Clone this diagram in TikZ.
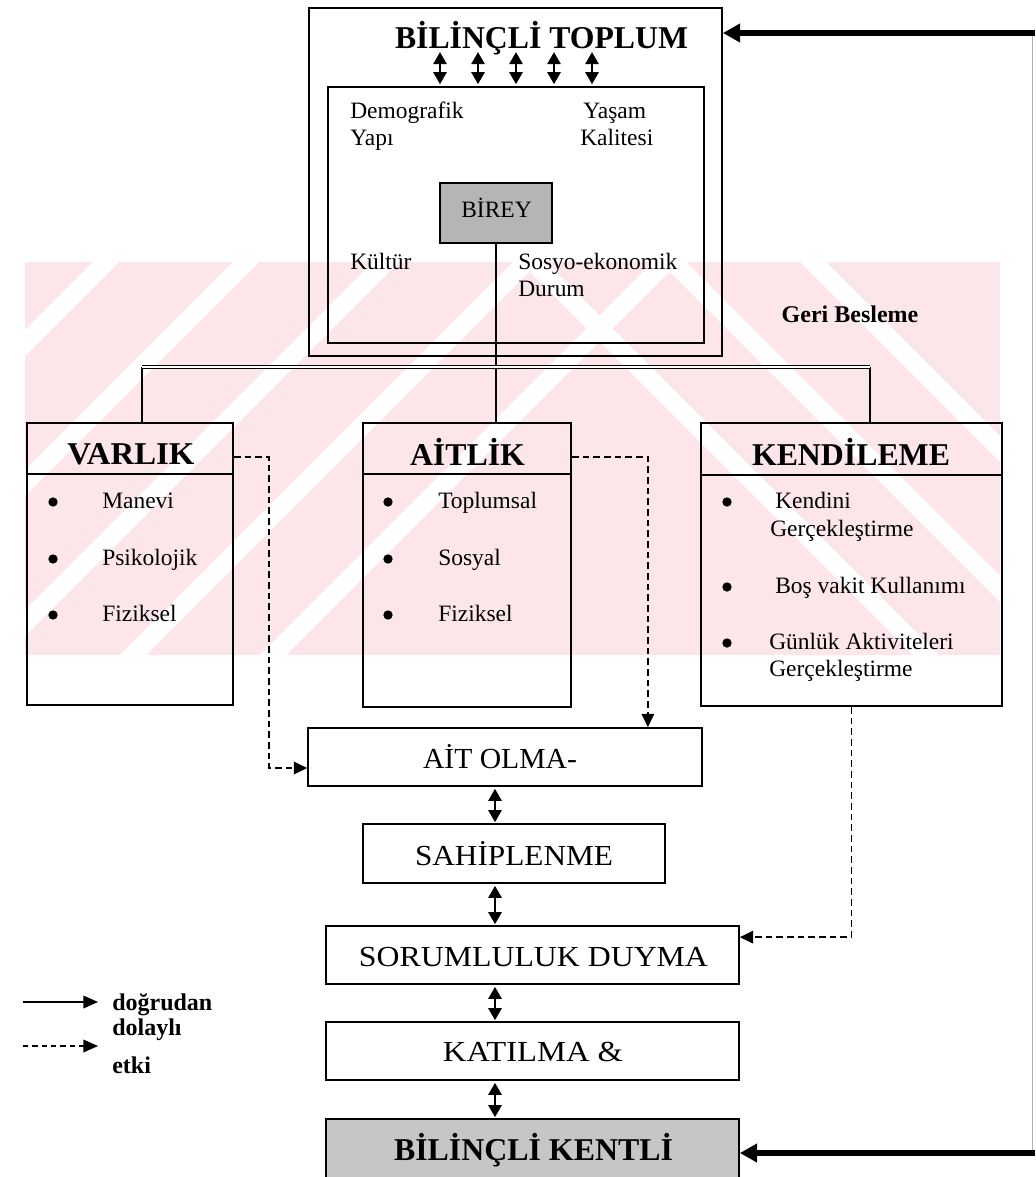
\documentclass[tikz,border=0pt]{standalone}
\usepackage{fontspec}
\setmainfont{Liberation Serif}
\usetikzlibrary{arrows.meta,calc}
\newlength{\px}\setlength{\px}{0.75pt}
\newcommand{\fw}[2]{\resizebox{#1\px}{\height}{#2}}
\definecolor{wm}{RGB}{252,230,234}
\begin{document}
\begin{tikzpicture}[x=0.75pt,y=-0.75pt,
  box/.style={draw,line width=1.3pt,inner sep=0pt},
  wh/.style 2 args={minimum width=#1*\px,minimum height=#2*\px},
  ln/.style={line width=1.1pt},
  bar/.style={double,double distance=1.1pt,line width=0.8pt},
  tx/.style={inner sep=0pt,font=\fontsize{17.6pt}{20pt}\selectfont},
  hd/.style={inner sep=0pt,font=\fontsize{23.8pt}{26pt}\selectfont\bfseries},
  sk/.style={inner sep=0pt,font=\fontsize{21.8pt}{24pt}\selectfont},
  sb/.style={inner sep=0pt,font=\fontsize{18pt}{20pt}\selectfont\bfseries},
  dot/.style={circle,fill,inner sep=0pt,minimum size=7pt},
  dsh/.style={line width=1.1pt,dash pattern=on 5pt off 3pt,-{Triangle[length=10pt,width=9.5pt]}},
  dbl/.style={line width=1.4pt,{Triangle[length=9pt,width=10pt]}-{Triangle[length=9pt,width=10pt]}},
  fb/.style={line width=4.2pt,-{Triangle[length=13pt,width=13.5pt]}},
  leg/.style={line width=1.1pt,-{Triangle[length=11pt,width=9.5pt]}}]
\useasboundingbox (0,0) rectangle (1035,1177);
\clip (0,0) rectangle (1035,1177);

% watermark
\begin{scope}
\clip (25,262) rectangle (1000,655);
\fill[wm] (25,262) rectangle (1000,655);
\foreach \a in {-300,-160,-20,120,260}
  \fill[white] (\a,655) -- (\a+26,655) -- (\a+419,262) -- (\a+393,262) -- cycle;
\foreach \a in {520,660,800}
  \fill[white] (\a,262) -- (\a+26,262) -- (\a+419,655) -- (\a+393,655) -- cycle;
\end{scope}

% top box
\node[box,wh={413}{348}] (outer) at (515.5,182) {};
\node[box,wh={376}{256}] (inner) at (516,215) {};
\node[hd,anchor=base] (ttl) at (541.5,49) {\fw{293}{BİLİNÇLİ TOPLUM}};
\foreach \dx in {-76,-38,0,38,76}
  \draw[dbl] ($(inner.north)+(\dx,-34)$) -- ($(inner.north)+(\dx,-2)$);

\node[tx,anchor=base west] (dem1) at (350,119) {Demografik};
\node[tx,anchor=base west] (dem2) at (350,146) {Yapı};
\node[tx,anchor=base west] (yas1) at (583,119) {Yaşam};
\node[tx,anchor=base west] (yas2) at (580,146) {Kalitesi};
\node[box,fill=gray!58,wh={112}{60}] (birey) at (496,213) {};
\node[tx,anchor=base] (bireyt) at (496.5,217) {BİREY};
\node[tx,anchor=base west] (kul) at (350,269) {Kültür};
\node[tx,anchor=base west] (sos1) at (518,269) {Sosyo-ekonomik};
\node[tx,anchor=base west] (sos2) at (518,296) {Durum};
\node[sb,anchor=base] (geri) at (850,322) {Geri Besleme};

% three boxes
\node[box,wh={206}{282}] (varlik) at (130,564) {};
\node[box,wh={208}{284}] (aitlik) at (467,565) {};
\node[box,wh={301}{283}] (kend) at (851.5,564.5) {};
\draw[ln] ($(varlik.north west)+(0,52)$) -- ($(varlik.north east)+(0,52)$);
\draw[ln] ($(aitlik.north west)+(0,52)$) -- ($(aitlik.north east)+(0,52)$);
\draw[ln] ($(kend.north west)+(0,53)$) -- ($(kend.north east)+(0,53)$);
\node[hd,anchor=base] (varlikt) at (131,464) {\fw{127}{VARLIK}};
\node[hd,anchor=base] (aitlikt) at (467.5,465) {\fw{115}{AİTLİK}};
\node[hd,anchor=base] (kendt) at (851,465) {\fw{198}{KENDİLEME}};

% tree connectors
\coordinate (jL) at (142,367);
\coordinate (jR) at (870,367);
\draw[ln] (birey.south) -- (birey.south |- aitlik.north);
\draw[ln] (jL) -- (jL |- varlik.north);
\draw[ln] (jR) -- (jR |- kend.north);
\draw[bar] (jL) -- (jR);

% bullets VARLIK
\node[dot] (v1) at (53,502) {};
\node[dot] (v2) at (53,559) {};
\node[dot] (v3) at (53,615) {};
\node[tx,anchor=base west] (v1t) at (102,508) {Manevi};
\node[tx,anchor=base west] (v2t) at (102,565) {Psikolojik};
\node[tx,anchor=base west] (v3t) at (102,621) {Fiziksel};
% bullets AITLIK
\node[dot] (a1) at (388,502) {};
\node[dot] (a2) at (388,559) {};
\node[dot] (a3) at (388,615) {};
\node[tx,anchor=base west] (a1t) at (438,508) {Toplumsal};
\node[tx,anchor=base west] (a2t) at (438,565) {Sosyal};
\node[tx,anchor=base west] (a3t) at (438,621) {Fiziksel};
% bullets KENDILEME
\node[dot] (k1) at (727,502) {};
\node[dot] (k2) at (727,587) {};
\node[dot] (k3) at (727,643) {};
\node[tx,anchor=base west] (k1t) at (775,508) {Kendini};
\node[tx,anchor=base west] (k1u) at (770,536) {Gerçekleştirme};
\node[tx,anchor=base west] (k2t) at (775,593) {Boş vakit Kullanımı};
\node[tx,anchor=base west] (k3t) at (769,649) {Günlük Aktiviteleri};
\node[tx,anchor=base west] (k3u) at (769,676) {Gerçekleştirme};

% stack
\node[box,wh={394}{58}] (ait) at (505,757) {};
\node[box,wh={302}{59}] (sahip) at (514,853.5) {};
\node[box,wh={413}{58}] (sorum) at (532.5,955) {};
\node[box,wh={413}{58}] (katil) at (532.5,1051) {};
\node[box,fill=gray!45,wh={413}{61}] (kentli) at (532.5,1149.5) {};
\node[sk,anchor=base] (aitt) at (500,768) {\fw{154}{AİT OLMA-}};
\node[sk,anchor=base] (sahipt) at (514,865) {\fw{198}{SAHİPLENME}};
\node[sk,anchor=base] (sorumt) at (533.5,966) {\fw{349}{SORUMLULUK DUYMA}};
\node[sk,anchor=base] (katilt) at (533,1061) {\fw{180}{KATILMA \&}};
\node[hd,anchor=base] (kentlit) at (533.5,1160) {\fw{279}{BİLİNÇLİ KENTLİ}};

\coordinate (sx) at (495,0);
\draw[dbl] ($(ait.south -| sx)+(0,2)$) -- ($(sahip.north -| sx)+(0,-1)$);
\draw[dbl] ($(sahip.south -| sx)+(0,2)$) -- ($(sorum.north -| sx)+(0,-1)$);
\draw[dbl] ($(sorum.south -| sx)+(0,2)$) -- ($(katil.north -| sx)+(0,-1)$);
\draw[dbl] ($(katil.south -| sx)+(0,2)$) -- ($(kentli.north -| sx)+(0,-1)$);

% dashed influences
\draw[dsh] ($(varlik.north east)+(0,35)$) -| ($(ait.west)+(-38,11)$) -- ($(ait.west)+(0,11)$);
\draw[dsh] ($(aitlik.north east)+(0,35)$) -| ($(ait.north east)+(-55,0)$);
\draw[dsh] (kend.south) |- ($(sorum.north east)+(0,12)$);

% feedback
\coordinate (fbT) at (1035,33);
\coordinate (fbB) at (1035,1153);
\coordinate (fvT) at (1032,33);
\coordinate (fvB) at (1032,1153);
\draw[line width=0.6pt,gray!60] (fvT) -- (fvB);
\draw[fb] (fbT) -- (outer.east |- fbT);
\draw[fb] (fbB) -- (kentli.east |- fbB);

% legend
\coordinate (l1a) at (23,1002);
\coordinate (l1b) at (98,1002);
\coordinate (l2a) at (23,1046);
\coordinate (l2b) at (98,1046);
\draw[leg] (l1a) -- (l1b);
\draw[leg,dash pattern=on 4pt off 3pt] (l2a) -- (l2b);
\node[sb,anchor=base west] (lg1) at (112,1010) {doğrudan};
\node[sb,anchor=base west] (lg2) at (112,1035) {dolaylı};
\node[sb,anchor=base west] (lg3) at (112,1073) {etki};
\end{tikzpicture}
\end{document}
